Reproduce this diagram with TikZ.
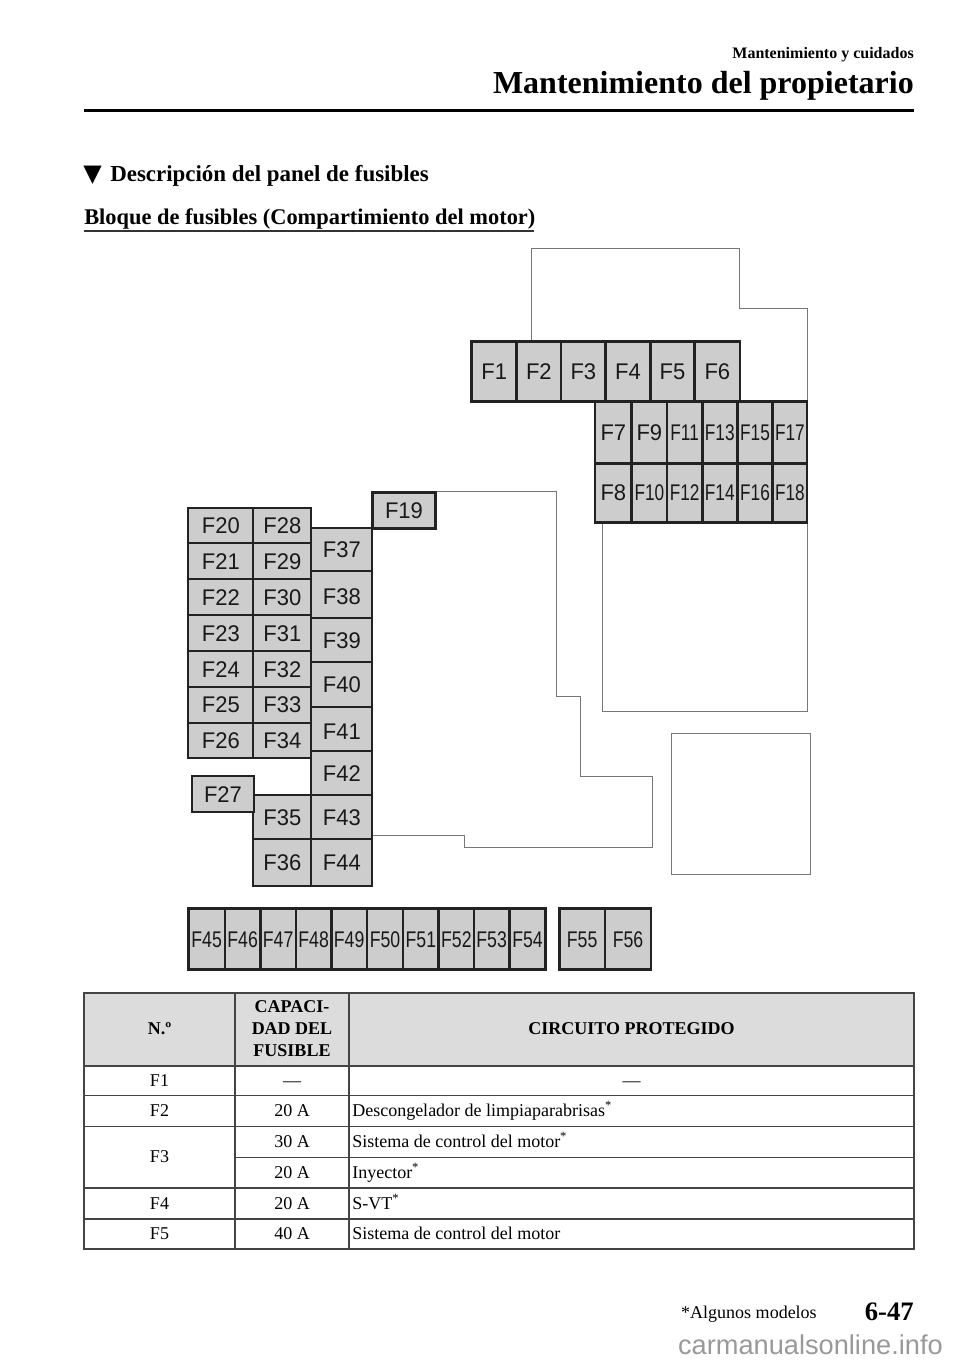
\documentclass[tikz,border=0pt]{standalone}
\usepackage{fontspec}
\usepackage{graphicx}
\setmainfont{Liberation Serif}
\newfontfamily\arialf{Liberation Sans}
\newfontfamily\dejav{DejaVu Sans}
\definecolor{fusefill}{HTML}{CDCDCD}
\definecolor{fuseline}{HTML}{222222}
\definecolor{outl}{HTML}{777777}
\definecolor{headfill}{HTML}{DCDCDC}
\definecolor{tabline}{HTML}{444444}
\definecolor{wm}{HTML}{999999}
\newcommand{\fuse}[7][.97]{%
  \pgfmathsetmacro{\fw}{(#5-#3)*0.75}\pgfmathsetmacro{\fh}{(#6-#4)*0.75}%
  \node[fusebox,minimum width=\fw pt,minimum height=\fh pt] (#2) at ({(#3+#5)/2},{(#4+#6)/2}) {\scalebox{#1}[1]{#7}};}
\newcommand{\low}[1]{\raisebox{-1.6pt}{#1}}
\tikzset{
  x=0.75pt,y=-0.75pt,
  fusebox/.style={draw=fuseline,fill=fusefill,line width=1.9pt,inner sep=0pt,outer sep=0pt,text height=12.2pt,text depth=0pt,font=\arialf\fontsize{17}{17}\selectfont,text=black!90},
  outline/.style={draw=outl,line width=0.75pt},
  tabrule/.style={draw=tabline,line width=0.8pt},
  celltext/.style={inner sep=0pt,font=\fontsize{13.5}{15}\selectfont,anchor=base},
  celll/.style={inner sep=0pt,font=\fontsize{13.5}{15}\selectfont,anchor=base west},
  headtext/.style={inner sep=0pt,font=\bfseries\fontsize{13.5}{17}\selectfont,anchor=base},
}
\begin{document}
\begin{tikzpicture}
\useasboundingbox (0,0) rectangle (960,1362);
\fill[white] (0,0) rectangle (960,1362);
% header
\node[inner sep=0pt,anchor=base east,font=\bfseries\fontsize{12}{14}\selectfont] (h1) at (914,59) {Mantenimiento y cuidados};
\node[inner sep=0pt,anchor=base east,font=\bfseries\fontsize{24}{28}\selectfont] (h2) at (914,93.5) {Mantenimiento del propietario};
\fill[black] (84,109) rectangle (914,112.5);
\node[inner sep=0pt,anchor=base west,font=\dejav\fontsize{18}{18}\selectfont] (h3a) at (83,182) {▼};
\node[inner sep=0pt,anchor=base west,font=\bfseries\fontsize{17.2}{20}\selectfont] (h3) at (110,182) {Descripción del panel de fusibles};
\node[inner sep=0pt,anchor=base west,font=\bfseries\fontsize{16.8}{20}\selectfont] (h4) at (84,225) {Bloque de fusibles (Compartimiento del motor)};
\fill[black!80] (84,230) rectangle (534,232);
% outlines
\draw[outline] (531.5,342) -- (531.5,248.5) -- (739.5,248.5) -- (739.5,309) -- (807,309) -- (807,402);
\draw[outline] (602.5,522) -- (602.5,711) -- (807,711) -- (807,522);
\draw[outline] (435,491.5) -- (556,491.5) -- (556,696.5) -- (580,696.5) -- (580,776.5) -- (652,776.5) -- (652,847) -- (464.5,847) -- (464.5,835) -- (373,835);
\draw[outline] (671,733) rectangle (810,874);
% top fuses
\fuse{F1}{471.7}{341.7}{516.7}{401.7}{F1}
\fuse{F2}{516.7}{341.7}{561}{401.7}{F2}
\fuse{F3}{561}{341.7}{605.7}{401.7}{F3}
\fuse{F4}{605.7}{341.7}{650.3}{401.7}{F4}
\fuse{F5}{650.3}{341.7}{694.7}{401.7}{F5}
\fuse{F6}{694.7}{341.7}{740}{401.7}{F6}
\fuse{F7}{595}{401.7}{631.7}{463.3}{F7}
\fuse{F8}{595}{463.3}{631.7}{522.3}{F8}
\fuse{F9}{631.7}{401.7}{667}{463.3}{F9}
\fuse[.76]{F10}{631.7}{463.3}{667}{522.3}{F10}
\fuse[.76]{F11}{667}{401.7}{702.3}{463.3}{F11}
\fuse[.76]{F12}{667}{463.3}{702.3}{522.3}{F12}
\fuse[.76]{F13}{702.3}{401.7}{737.3}{463.3}{F13}
\fuse[.76]{F14}{702.3}{463.3}{737.3}{522.3}{F14}
\fuse[.76]{F15}{737.3}{401.7}{772.7}{463.3}{F15}
\fuse[.76]{F16}{737.3}{463.3}{772.7}{522.3}{F16}
\fuse[.76]{F17}{772.7}{401.7}{807}{463.3}{F17}
\fuse[.76]{F18}{772.7}{463.3}{807}{522.3}{F18}
\fuse{F19}{372.3}{492.7}{435.7}{528.7}{F19}
% left block
\tikzset{fusebox/.append style={line width=1.5pt}}
\fuse{F20}{188.3}{507.7}{253.3}{543.3}{F20}
\fuse{F21}{188.3}{543.3}{253.3}{579}{F21}
\fuse{F22}{188.3}{579}{253.3}{615}{F22}
\fuse{F23}{188.3}{615}{253.3}{651}{F23}
\fuse{F24}{188.3}{651}{253.3}{687}{F24}
\fuse{F25}{188.3}{687}{253.3}{722.7}{F25}
\fuse{F26}{188.3}{722.7}{253.3}{757.7}{F26}
\fuse{F28}{253.3}{507.7}{311.3}{543.3}{F28}
\fuse{F29}{253.3}{543.3}{311.3}{579}{F29}
\fuse{F30}{253.3}{579}{311.3}{615}{F30}
\fuse{F31}{253.3}{615}{311.3}{651}{F31}
\fuse{F32}{253.3}{651}{311.3}{687}{F32}
\fuse{F33}{253.3}{687}{311.3}{722.7}{F33}
\fuse{F34}{253.3}{722.7}{311.3}{757.7}{F34}
\fuse{F37}{311.3}{528.3}{372.3}{571}{F37}
\fuse{F38}{311.3}{571}{372.3}{618}{\low{F38}}
\fuse{F39}{311.3}{618}{372.3}{662}{F39}
\fuse{F40}{311.3}{662}{372.3}{706.7}{F40}
\fuse{F41}{311.3}{706.7}{372.3}{751.3}{\low{F41}}
\fuse{F42}{311.3}{751.3}{372.3}{795}{F42}
\fuse{F43}{311.3}{795}{372.3}{839.3}{F43}
\fuse{F44}{311.3}{839.3}{372.3}{885.7}{F44}
\fuse{F35}{253.3}{795}{311.3}{839.3}{F35}
\fuse{F36}{253.3}{839.3}{311.3}{885.7}{F36}
\fuse{F27}{192}{776}{254}{812.3}{F27}
% bottom row
\tikzset{fusebox/.append style={line width=1.9pt}}
\fuse[.78]{F45}{188.3}{908.7}{225}{969.3}{F45}
\fuse[.78]{F46}{225}{908.7}{260.3}{969.3}{F46}
\fuse[.78]{F47}{260.3}{908.7}{296}{969.3}{F47}
\fuse[.78]{F48}{296}{908.7}{331.3}{969.3}{F48}
\fuse[.78]{F49}{331.3}{908.7}{367}{969.3}{F49}
\fuse[.78]{F50}{367}{908.7}{403}{969.3}{F50}
\fuse[.78]{F51}{403}{908.7}{438.7}{969.3}{F51}
\fuse[.78]{F52}{438.7}{908.7}{474}{969.3}{F52}
\fuse[.78]{F53}{474}{908.7}{509.3}{969.3}{F53}
\fuse[.78]{F54}{509.3}{908.7}{545.7}{969.3}{F54}
\fuse[.78]{F55}{559.3}{908.7}{605}{969.3}{F55}
\fuse[.78]{F56}{605}{908.7}{651}{969.3}{F56}
% table
\fill[headfill] (84,993) rectangle (914,1066);
\draw[tabrule] (84,993) rectangle (914,1249);
\draw[tabrule] (84,1066) -- (914,1066);
\draw[tabrule] (84,1095.7) -- (914,1095.7);
\draw[tabrule] (84,1126.5) -- (914,1126.5);
\draw[tabrule] (235,1157.3) -- (914,1157.3);
\draw[tabrule] (84,1188) -- (914,1188);
\draw[tabrule] (84,1219) -- (914,1219);
\draw[tabrule] (235,993) -- (235,1249);
\draw[tabrule] (349,993) -- (349,1249);
\node[headtext] (t0) at (159.5,1034) {N.º};
\node[headtext] (t1) at (292,1012) {CAPACI-};
\node[headtext] (t2) at (292,1034) {DAD DEL};
\node[headtext] (t3) at (292,1056) {FUSIBLE};
\node[headtext] (t4) at (631.5,1034) {CIRCUITO PROTEGIDO};
\node[celltext] (a1) at (159.5,1086) {F1};
\node[celltext] (b1) at (292,1086) {—};
\node[celltext] (c1) at (631.5,1086) {—};
\node[celltext] (a2) at (159.5,1116) {F2};
\node[celltext] (b2) at (292,1116) {20 A};
\node[celll] (c2) at (352,1116) {Descongelador de limpiaparabrisas\textsuperscript{*}};
\node[celltext] (a3) at (159.5,1162) {F3};
\node[celltext] (b3) at (292,1147) {30 A};
\node[celll] (c3) at (352,1147) {Sistema de control del motor\textsuperscript{*}};
\node[celltext] (b4) at (292,1178) {20 A};
\node[celll] (c4) at (352,1178) {Inyector\textsuperscript{*}};
\node[celltext] (a5) at (159.5,1209) {F4};
\node[celltext] (b5) at (292,1209) {20 A};
\node[celll] (c5) at (352,1209) {S-VT\textsuperscript{*}};
\node[celltext] (a6) at (159.5,1239) {F5};
\node[celltext] (b6) at (292,1239) {40 A};
\node[celll] (c6) at (352,1239) {Sistema de control del motor};
% footer
\node[inner sep=0pt,anchor=base east,font=\fontsize{13.5}{16}\selectfont] (f1) at (817,1318) {*Algunos modelos};
\node[inner sep=0pt,anchor=base east,font=\bfseries\fontsize{20}{24}\selectfont] (f2) at (914,1320.5) {6-47};
\node[inner sep=0pt,anchor=base east,font=\arialf\fontsize{20.4}{24}\selectfont,text=wm] (f3) at (943,1354) {carmanualsonline.info};
\end{tikzpicture}
\end{document}
